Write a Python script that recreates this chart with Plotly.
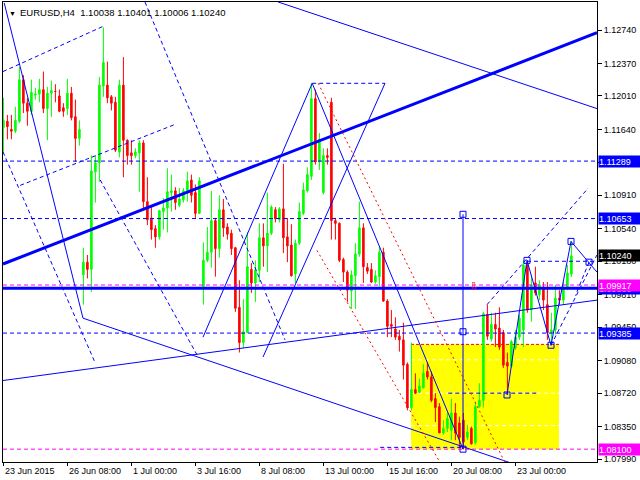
import plotly.graph_objects as go

# ---------------- data (EURUSD H4, bar index 0 = 23 Jun 2015 16:00) ----------------
opens = [1.1166,1.1173,1.1164,1.1162,1.1173,1.1219,1.1193,1.1184,1.1202,1.1203,
         1.1208,1.1187,1.1204,1.1206,1.1201,1.1188,1.1187,1.1204,1.1178,1.1154,
         1.1003,1.1017,1.1009,1.1117,1.1127,1.1212,1.1213,1.1200,1.1194,1.1139,
         1.1213,1.1152,1.1138,1.1135,1.1138,1.1149,1.1084,1.1066,1.1054,1.1045,
         1.1073,1.1077,1.1094,1.1096,1.1080,1.1086,1.1095,1.1108,1.1094,1.1071,
         1.0990,1.1019,1.1028,1.1063,1.1032,1.1075,1.1056,1.1049,1.1033,1.0967,
         1.0928,1.0939,1.1009,1.0994,1.1008,1.1044,1.1035,1.1049,1.1075,1.1064,
         1.1076,1.1045,1.1036,1.1004,1.1038,1.1071,1.1096,1.1112,1.1198,1.1128,
         1.1094,1.1135,1.1194,1.1063,1.1060,1.1020,1.1006,1.0985,1.1002,1.1026,
         1.1055,1.1011,1.1009,1.0995,1.1001,1.1028,1.0974,1.0948,1.0943,1.0935,
         1.0931,1.0904,1.0856,1.0876,1.0873,1.0878,1.0896,1.0890,1.0866,1.0857,
         1.0828,1.0833,1.0831,1.0850,1.0839,1.0842,1.0823,1.0833,1.0817,1.0857,
         1.0864,1.0959,1.0932,1.0948,1.0944,1.0939,1.0906,1.0902,1.0922,1.0934,
         1.0942,1.1014,1.0964,1.0994,1.0981,1.0988,1.0970,1.0939,1.0942,1.0977,
         1.0975,1.0988,1.10038]
highs = [1.1199,1.1180,1.1180,1.1189,1.1233,1.1224,1.1199,1.1219,1.1210,1.1220,
         1.1228,1.1211,1.1218,1.1214,1.1208,1.1193,1.1220,1.1211,1.1197,1.1174,
         1.1033,1.1025,1.1135,1.1135,1.1222,1.1277,1.1239,1.1202,1.1200,1.1219,
         1.1244,1.1153,1.1152,1.1143,1.1152,1.1152,1.1111,1.1078,1.1058,1.1075,
         1.1088,1.1121,1.1114,1.1100,1.1099,1.1099,1.1117,1.1114,1.1103,1.1111,
         1.1039,1.1056,1.1096,1.1066,1.1091,1.1087,1.1060,1.1053,1.1034,1.0997,
         1.0976,1.1050,1.1016,1.1019,1.1060,1.1060,1.1094,1.1080,1.1078,1.1078,
         1.1126,1.1066,1.1059,1.1042,1.1083,1.1105,1.1122,1.1215,1.1208,1.1160,
         1.1143,1.1143,1.1199,1.1066,1.1061,1.1022,1.1008,1.1008,1.1038,1.1084,
         1.1060,1.1016,1.1016,1.1008,1.1034,1.1033,1.0976,1.0964,1.0956,1.0942,
         1.0950,1.0906,1.0928,1.0894,1.0888,1.0904,1.0906,1.0896,1.0872,1.0861,
         1.0842,1.0850,1.0866,1.0861,1.0846,1.0850,1.0837,1.0835,1.0862,1.0883,
         1.0962,1.0970,1.0961,1.0961,1.0967,1.0942,1.0917,1.0931,1.0942,1.0959,
         1.1019,1.1019,1.1003,1.1012,1.0997,1.0995,1.0995,1.0961,1.0992,1.0986,
         1.0995,1.1014,1.10401]
lows = [1.1138,1.1153,1.1153,1.1160,1.1171,1.1182,1.1168,1.1180,1.1197,1.1194,
        1.1182,1.1152,1.1178,1.1194,1.1183,1.1178,1.1180,1.1174,1.1128,1.1146,
        1.0970,1.0999,1.0984,1.1083,1.1106,1.1200,1.1193,1.1185,1.1139,1.1133,
        1.1111,1.1125,1.1125,1.1132,1.1095,1.1075,1.1058,1.1042,1.1033,1.1042,
        1.1053,1.1050,1.1073,1.1075,1.1078,1.1083,1.1084,1.1083,1.1066,1.1071,
        1.0970,1.1017,1.1011,1.1001,1.1022,1.1045,1.1042,1.1025,1.0962,1.0917,
        1.0922,1.0939,1.0983,1.0973,1.0995,1.1012,1.1006,1.1047,1.1061,1.1061,
        1.1027,1.1017,1.1001,1.0994,1.1036,1.1069,1.1094,1.1108,1.1125,1.1119,
        1.1092,1.1125,1.1042,1.1042,1.1017,1.0995,1.0973,1.0965,1.0965,1.1023,
        1.0994,1.1004,1.0994,1.0993,1.0990,1.0973,1.0934,1.0934,1.0931,1.0918,
        1.0887,1.0853,1.0853,1.0871,1.0872,1.0877,1.0887,1.0862,1.0840,1.0828,
        1.0826,1.0829,1.0820,1.0820,1.0812,1.0810,1.0820,1.0815,1.0815,1.0856,
        1.0856,1.0931,1.0929,1.0923,1.0920,1.0900,1.0870,1.0900,1.0920,1.0931,
        1.0923,1.0961,1.0951,1.0980,1.0975,1.0964,1.0931,1.0925,1.0937,1.0970,
        1.0970,1.0986,1.10006]
closes = [1.1174,1.1167,1.1162,1.1174,1.1219,1.1193,1.1184,1.1205,1.1203,1.1208,
          1.1187,1.1204,1.1207,1.1206,1.1184,1.1184,1.1204,1.1177,1.1154,1.1164,
          1.1017,1.1009,1.1118,1.1127,1.1213,1.1238,1.1199,1.1193,1.1141,1.1213,
          1.1152,1.1135,1.1135,1.1139,1.1149,1.1084,1.1064,1.1053,1.1045,1.1074,
          1.1077,1.1095,1.1096,1.1083,1.1087,1.1096,1.1107,1.1091,1.1071,1.1107,
          1.1019,1.1028,1.1063,1.1032,1.1075,1.1055,1.1048,1.1032,1.0966,1.0928,
          1.0940,1.1012,1.0994,1.1008,1.1044,1.1035,1.1049,1.1078,1.1065,1.1076,
          1.1044,1.1035,1.1002,1.1038,1.1073,1.1097,1.1114,1.1198,1.1128,1.1153,
          1.1135,1.1133,1.1063,1.1060,1.1019,1.1006,1.0986,1.1003,1.1026,1.1055,
          1.1012,1.1007,1.0995,1.1002,1.1028,1.0974,1.0946,1.0946,1.0934,1.0931,
          1.0903,1.0856,1.0876,1.0872,1.0880,1.0894,1.0890,1.0864,1.0856,1.0828,
          1.0833,1.0844,1.0850,1.0828,1.0823,1.0818,1.0829,1.0816,1.0857,1.0864,
          1.0960,1.0935,1.0948,1.0943,1.0923,1.0903,1.0902,1.0929,1.0934,1.0955,
          1.1014,1.0964,1.0992,1.0983,1.0992,1.0975,1.0939,1.0942,1.0977,1.0975,
          1.0988,1.1005,1.10240]
bars = list(range(len(opens)))

x_label_bars = [0, 16, 32, 48, 64, 80, 96, 112, 128]
x_label_text = ["23 Jun 2015", "26 Jun 08:00", "1 Jul 00:00", "3 Jul 16:00", "8 Jul 08:00",
                "13 Jul 00:00", "15 Jul 16:00", "20 Jul 08:00", "23 Jul 00:00"]
price_ticks = [1.07990, 1.08350, 1.08720, 1.09080, 1.09450, 1.09810, 1.10180,
               1.10540, 1.10910, 1.11270, 1.11640, 1.12010, 1.12370, 1.12740]

# drawn objects: (bar0, price0, bar1, price1)
thick_trend = [(-0.1, 1.1015, 148.4, 1.1271)]
thin_solid = [(68.7, 1.1305, 148.4, 1.1187), (-0.1, 1.0886, 148.4, 1.0975),
              (0.2, 1.1304, 19.9, 1.0955), (19.9, 1.0955, 126.7, 1.0795),
              (49.9, 1.0934, 77.2, 1.1215), (64.9, 1.0912, 95.4, 1.1215),
              (77.2, 1.1215, 114.9, 1.0810), (114.9, 1.1070, 114.9, 1.0810),
              (125.9, 1.0870, 130.9, 1.1019), (130.9, 1.1019, 136.9, 1.0925),
              (136.9, 1.0925, 141.9, 1.1040), (141.9, 1.1040, 148.4, 1.1006)]
blue_dashed = [(-0.1, 1.1228, 24.9, 1.1278), (4.2, 1.1102, 43.2, 1.1170),
               (-0.1, 1.1139, 22.9, 1.0906), (24.2, 1.1108, 48.7, 1.0912),
               (35.4, 1.1305, 70.4, 1.0931), (77.2, 1.1215, 95.4, 1.1215),
               (94.2, 1.0812, 114.9, 1.0812), (111.2, 1.0872, 133.4, 1.0872),
               (130.9, 1.1018, 148.4, 1.1018), (120.9, 1.0970, 146.2, 1.1099),
               (136.9, 1.0925, 148.4, 1.1025), (146.4, 1.1017, 143.0, 1.0980)]
red_dotted = [(78.7, 1.1215, 125.4, 1.0795), (78.4, 1.1030, 109.2, 1.0795)]

blue_dashed_levels = [1.11289, 1.10653, 1.09385]
magenta_levels = [1.09917, 1.08100]
thick_level = 1.09880

box_bars = (101.9, 138.9)
box_prices = (1.0810, 1.0926)
box_inner_levels = [1.0909, 1.0872, 1.0836]

marker_bars = [114.9, 114.9, 114.9, 125.9, 130.9, 136.9, 141.9, 146.4]
marker_prices = [1.1070, 1.0940, 1.0810, 1.0870, 1.1019, 1.0925, 1.1040, 1.1017]
arrow_bar, arrow_price = 117.4, 1.0990

price_boxes = [(1.11289, "1.11289", "#0000FF", "white"),
               (1.10653, "1.10653", "#0000FF", "white"),
               (1.09880, "1.09880", "#0000FF", "white"),
               (1.09917, "1.09917", "#FF00FF", "white"),
               (1.09385, "1.09385", "#0000FF", "white"),
               (1.08100, "1.08100", "#FF00FF", "white"),
               (1.10240, "1.10240", "#000000", "white")]

BLUE = "#0000FF"
FONT = "Liberation Sans"

fig = go.Figure()
fig.add_trace(go.Candlestick(
    x=bars, open=opens, high=highs, low=lows, close=closes,
    increasing=dict(line=dict(color="#00FF00", width=1), fillcolor="#00FF00"),
    decreasing=dict(line=dict(color="#FF0000", width=1), fillcolor="#FF0000"),
    whiskerwidth=0, hoverinfo="skip", showlegend=False))

fig.add_trace(go.Scatter(x=marker_bars, y=marker_prices, mode="markers",
                         marker=dict(symbol="square-open", size=6, color=BLUE, line=dict(width=1)),
                         hoverinfo="skip", showlegend=False))

shapes = []
shapes.append(dict(type="rect", xref="x", yref="y", x0=box_bars[0], x1=box_bars[1],
                   y0=box_prices[0], y1=box_prices[1], fillcolor="#FFFF00",
                   line=dict(width=0), layer="below"))
for lv in box_inner_levels:
    shapes.append(dict(type="line", xref="x", yref="y", x0=box_bars[0], x1=box_bars[1],
                       y0=lv, y1=lv, line=dict(color="white", width=1, dash="4px,3px"), layer="below"))
shapes.append(dict(type="line", xref="x", yref="y", x0=box_bars[0], x1=box_bars[1],
                   y0=box_prices[1], y1=box_prices[1],
                   line=dict(color="#FF0000", width=1, dash="3px,2px"), layer="below"))

for lv in blue_dashed_levels:
    shapes.append(dict(type="line", xref="paper", yref="y", x0=0, x1=1, y0=lv, y1=lv,
                       line=dict(color=BLUE, width=1, dash="4px,3px")))
for lv in magenta_levels:
    shapes.append(dict(type="line", xref="paper", yref="y", x0=0, x1=1, y0=lv, y1=lv,
                       line=dict(color="#FF00FF", width=1, dash="4px,3px")))
shapes.append(dict(type="line", xref="paper", yref="y", x0=0, x1=1, y0=thick_level, y1=thick_level,
                   line=dict(color=BLUE, width=3)))

for (a, b, c, d) in thick_trend:
    shapes.append(dict(type="line", xref="x", yref="y", x0=a, y0=b, x1=c, y1=d,
                       line=dict(color=BLUE, width=3)))
for (a, b, c, d) in thin_solid:
    shapes.append(dict(type="line", xref="x", yref="y", x0=a, y0=b, x1=c, y1=d,
                       line=dict(color=BLUE, width=1)))
for (a, b, c, d) in blue_dashed:
    shapes.append(dict(type="line", xref="x", yref="y", x0=a, y0=b, x1=c, y1=d,
                       line=dict(color=BLUE, width=1, dash="4px,3px")))
for (a, b, c, d) in red_dotted:
    shapes.append(dict(type="line", xref="x", yref="y", x0=a, y0=b, x1=c, y1=d,
                       line=dict(color="#FF0000", width=1, dash="2px,3px")))

annotations = []
annotations.append(dict(xref="paper", yref="paper", x=0, y=1, xanchor="left", yanchor="top",
                        xshift=4, yshift=-6, text="▼", showarrow=False,
                        font=dict(family=FONT, size=7, color="black")))
annotations.append(dict(xref="paper", yref="paper", x=0, y=1, xanchor="left", yanchor="top",
                        xshift=15, yshift=-3,
                        text="EURUSD,H4  %.5f %.5f %.5f %.5f" % (opens[-1], highs[-1], lows[-1], closes[-1]),
                        showarrow=False, font=dict(family=FONT, size=9.5, color="black")))
for b, t in zip(x_label_bars, x_label_text):
    annotations.append(dict(xref="x", yref="paper", x=b - 0.1, y=0, xanchor="left", yanchor="top",
                            yshift=-2, text=t, showarrow=False,
                            font=dict(family=FONT, size=9, color="black")))
for p, t, bg, fc in price_boxes:
    annotations.append(dict(xref="paper", yref="y", x=1, y=p, xanchor="left", yanchor="middle",
                            xshift=1, text=t, showarrow=False, bgcolor=bg, width=42, height=11,
                            align="left", borderpad=0,
                            font=dict(family=FONT, size=9, color=fc)))
annotations.append(dict(xref="x", yref="y", x=arrow_bar, y=arrow_price, text="⇩", showarrow=False,
                        font=dict(family="DejaVu Sans", size=11, color="#FF0000")))

fig.update_layout(
    width=640, height=480,
    margin=dict(l=3, r=43, t=2, b=18),
    paper_bgcolor="white", plot_bgcolor="white",
    shapes=shapes, annotations=annotations,
    boxgap=0.45, showlegend=False,
    xaxis=dict(range=[-0.1, 148.4], rangeslider=dict(visible=False), showgrid=False,
               zeroline=False, tickvals=x_label_bars, ticktext=[""] * len(x_label_bars),
               ticks="outside", ticklen=3, tickcolor="black", showline=True, linecolor="black",
               linewidth=1, mirror=True, fixedrange=True),
    yaxis=dict(range=[1.07958, 1.13050], side="right", showgrid=False, zeroline=False,
               tickvals=price_ticks, ticktext=["%.5f" % v for v in price_ticks],
               ticks="outside", ticklen=4, tickcolor="black", showline=True, linecolor="black",
               linewidth=1, mirror=True, tickfont=dict(family=FONT, size=9, color="black"),
               fixedrange=True),
)

fig.write_html("out.html", config={"displayModeBar": False},
               post_script="document.body.style.margin='0';document.body.style.padding='0';")
